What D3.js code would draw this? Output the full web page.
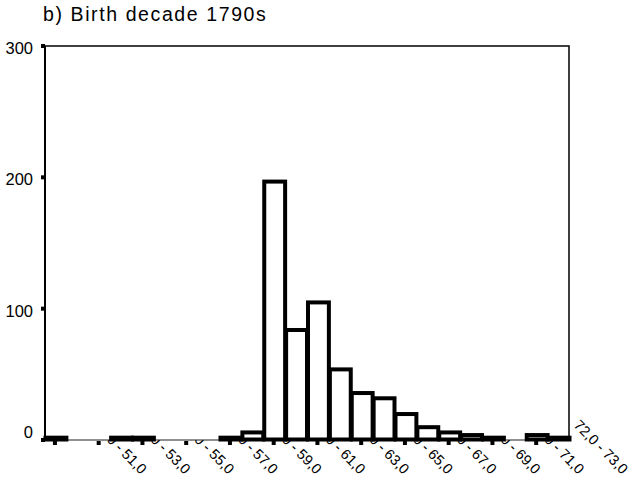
<!DOCTYPE html>
<html>
<head>
<meta charset="utf-8">
<script src="https://cdn.jsdelivr.net/npm/d3@7"></script>
<style>
  body { margin: 0; background: #fff; }
  text { font-family: "Liberation Sans", Arial, sans-serif; fill: #000; }
</style>
</head>
<body>
<svg class="container"></svg>
<script>
// age bins (lower bound of a 1-year bin) and counts
const bins = [48, 49, 50, 51, 52, 53, 54, 55, 56, 57, 58, 59, 60, 61, 62, 63, 64, 65, 66, 67, 68, 69, 70, 71];
const counts = [1, 0, 0, 1, 1, 0, 0, 0, 1, 5, 196, 83, 104, 53, 35, 31, 19, 9, 5, 3, 1, 0, 3, 1];
const tickBins = [48, 50, 52, 54, 56, 58, 60, 62, 64, 66, 68, 70];
const labelBins = [50, 52, 54, 56, 58, 60, 62, 64, 66, 68, 70, 72];
const yTicks = [0, 100, 200, 300];
const title = "b) Birth decade 1790s";

const width = 630;
const height = 489;
const pLeft = 44, pRight = 569, pTop = 46, pBottom = 440;

const svg = d3.select(".container");
svg.attr("width", width).attr("height", height);

const xScale = d3.scaleLinear().domain([48, 72]).range([pLeft, pRight]);
const yScale = d3.scaleLinear().domain([0, 300]).range([pBottom, pTop]);

const fmt = (v) => v + ",0";

// x labels first, the plot area hides the part above the axis
svg
  .selectAll(".xlab")
  .data(labelBins)
  .enter()
  .append("text")
  .attr("class", "xlab")
  .attr("transform", (d) => `translate(${xScale(d + 0.5) - 7},426) rotate(45)`)
  .style("font-size", "14.5px")
  .text((d) => fmt(d) + " - " + fmt(d + 1));

svg
  .append("rect")
  .attr("x", pLeft)
  .attr("y", pTop)
  .attr("width", pRight - pLeft)
  .attr("height", pBottom - pTop)
  .attr("fill", "#fff");

// frame
svg
  .append("path")
  .attr("d", `M${pLeft + 1},${pTop} H${pRight} V${pBottom}`)
  .attr("fill", "none")
  .attr("stroke", "#000")
  .attr("stroke-width", 1.5);

svg
  .append("line")
  .attr("x1", pLeft)
  .attr("x2", pRight)
  .attr("y1", pBottom)
  .attr("y2", pBottom)
  .attr("stroke", "#222")
  .attr("stroke-width", 1.2);

svg
  .append("line")
  .attr("x1", pLeft + 1)
  .attr("x2", pLeft + 1)
  .attr("y1", pTop)
  .attr("y2", pBottom)
  .attr("stroke", "#000")
  .attr("stroke-width", 2);

// bars
const barData = bins.map((b, i) => ({ bin: b, n: counts[i] })).filter((d) => d.n > 0);
svg
  .selectAll(".bar")
  .data(barData)
  .enter()
  .append("rect")
  .attr("class", "bar")
  .attr("x", (d) => xScale(d.bin) + 1.5)
  .attr("y", (d) => yScale(d.n) - 1)
  .attr("width", (d) => xScale(d.bin + 1) - xScale(d.bin) - 1)
  .attr("height", (d) => yScale(0) - yScale(d.n) + 0.5)
  .attr("fill", "#fff")
  .attr("stroke", "#000")
  .attr("stroke-width", 4);

// tick squares
svg
  .selectAll(".xt")
  .data(tickBins)
  .enter()
  .append("rect")
  .attr("x", (d) => xScale(d + 0.5) - 2)
  .attr("y", pBottom + 1)
  .attr("width", 4)
  .attr("height", 4)
  .attr("fill", "#000");

svg
  .selectAll(".yt")
  .data(yTicks)
  .enter()
  .append("rect")
  .attr("x", pLeft - 3)
  .attr("y", (d) => yScale(d) - 2)
  .attr("width", 4)
  .attr("height", 4)
  .attr("fill", "#000");

svg
  .selectAll(".ylab")
  .data(yTicks)
  .enter()
  .append("text")
  .attr("x", 33)
  .attr("y", (d) => yScale(d) + (d === 0 ? -2 : 8))
  .attr("text-anchor", "end")
  .style("font-size", "16.5px")
  .text((d) => d);

svg
  .append("text")
  .attr("x", 43)
  .attr("y", 21)
  .style("font-size", "19.5px")
  .style("letter-spacing", "1.6px")
  .text(title);
</script>
</body>
</html>
